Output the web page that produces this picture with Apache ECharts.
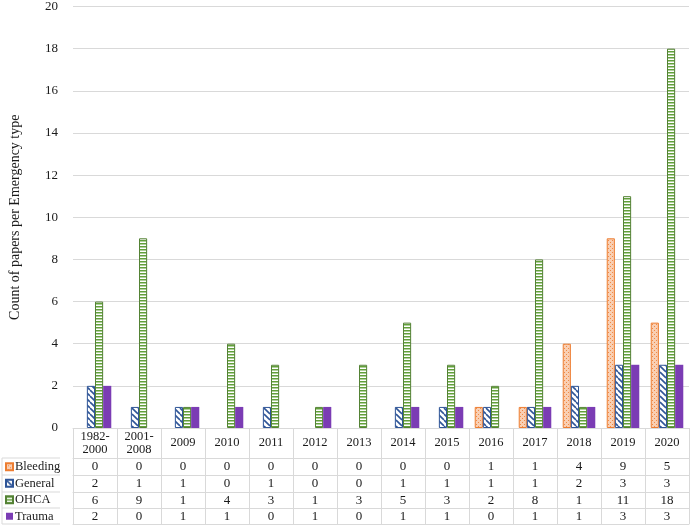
<!DOCTYPE html>
<html>
<head>
<meta charset="utf-8">
<script src="https://cdn.jsdelivr.net/npm/echarts@6/dist/echarts.min.js"></script>
<style>
  html, body { margin: 0; padding: 0; background: #fff; }
  #chart { width: 690px; height: 526px; }
</style>
</head>
<body>
<div id="chart"></div>
<script>
;(function () {
  const categories = ['1982-\n2000', '2001-\n2008', '2009', '2010', '2011', '2012', '2013', '2014', '2015', '2016', '2017', '2018', '2019', '2020']
  const seriesNames = ['Bleeding', 'General', 'OHCA', 'Trauma']
  const bleeding = [0, 0, 0, 0, 0, 0, 0, 0, 0, 1, 1, 4, 9, 5]
  const general = [2, 1, 1, 0, 1, 0, 0, 1, 1, 1, 1, 2, 3, 3]
  const ohca = [6, 9, 1, 4, 3, 1, 3, 5, 3, 2, 8, 1, 11, 18]
  const trauma = [2, 0, 1, 1, 0, 1, 0, 1, 1, 0, 1, 1, 3, 3]

  const FONT = 'Liberation Serif'
  const LINE = '#d9d9d9'
  const TEXT = '#1a1a1a'
  const GRID_LEFT = 60
  const GRID_BOTTOM = 98
  const CHART_H = 526
  const rowOffsets = [30, 47, 64, 80, 96] // row tops below the x axis, last one = table bottom

  function pattern(w, h, draw) {
    const c = document.createElement('canvas')
    c.width = w
    c.height = h
    draw(c.getContext('2d'))
    return { image: c, repeat: 'repeat' }
  }

  const dots = pattern(4, 4, (ctx) => {
    ctx.fillStyle = '#f9cfb3'
    ctx.fillRect(0, 0, 4, 4)
    ctx.fillStyle = '#f08a45'
    ctx.fillRect(0, 0, 1, 1)
    ctx.fillRect(2, 2, 1, 1)
  })

  const diag = pattern(6, 6, (ctx) => {
    ctx.fillStyle = '#fff'
    ctx.fillRect(0, 0, 6, 6)
    ctx.strokeStyle = '#2f5597'
    ctx.lineWidth = 1.6
    for (const k of [-6, 0, 6]) {
      ctx.beginPath()
      ctx.moveTo(k, 0)
      ctx.lineTo(k + 6, 6)
      ctx.stroke()
    }
  })

  const horiz = pattern(2, 3, (ctx) => {
    ctx.fillStyle = '#fff'
    ctx.fillRect(0, 0, 2, 3)
    ctx.fillStyle = '#62a03a'
    ctx.fillRect(0, 0, 2, 1.5)
  })

  const styles = [
    { color: dots, borderColor: '#ed7d31', borderWidth: 1 },
    { color: diag, borderColor: '#2f5597', borderWidth: 1 },
    { color: horiz, borderColor: '#548235', borderWidth: 1 },
    { color: '#7b3cb4', borderColor: '#7b3cb4', borderWidth: 0 },
  ]
  const values = [bleeding, general, ohca, trauma]

  const series = values.map((vals, i) => ({
    name: seriesNames[i],
    type: 'bar',
    barGap: '0%',
    barCategoryGap: '26%',
    itemStyle: styles[i],
    data: vals.map((v) => (v === 0 ? '-' : v)),
  }))

  const textStyle = { fontFamily: FONT, fontSize: 12.5, color: TEXT }

  const tableAxes = rowOffsets.map((off, i) => ({
    type: 'category',
    data: categories,
    position: 'bottom',
    offset: off,
    axisLine: { show: true, lineStyle: { color: LINE } },
    axisTick: { show: false },
    axisLabel: {
      show: i < values.length,
      interval: 0,
      margin: 8.5,
      verticalAlign: 'middle',
      ...textStyle,
      fontSize: 13,
      formatter: (v, idx) => (i < values.length ? String(values[i][idx]) : ''),
    },
  }))

  // left column borders of the data table (legend cells)
  const axisY = CHART_H - GRID_BOTTOM
  const leftLines = rowOffsets.map((off) => ({
    type: 'line',
    shape: { x1: 2, y1: axisY + off, x2: GRID_LEFT, y2: axisY + off },
    style: { stroke: LINE, lineWidth: 1 },
  }))
  leftLines.push({
    type: 'line',
    shape: { x1: 2, y1: axisY + rowOffsets[0], x2: 2, y2: axisY + rowOffsets[rowOffsets.length - 1] },
    style: { stroke: LINE, lineWidth: 1 },
  })

  const chart = echarts.init(document.getElementById('chart'))
  chart.setOption({
    animation: false,
    backgroundColor: '#fff',
    grid: { left: GRID_LEFT, right: 1, top: 5, bottom: GRID_BOTTOM },
    legend: {
      orient: 'vertical',
      left: 5,
      top: axisY + rowOffsets[0] + 0.5,
      padding: 0,
      itemGap: 0,
      itemWidth: 7,
      itemHeight: 7,
      icon: 'rect',
      textStyle: { ...textStyle, fontSize: 12.5, lineHeight: 16.5, padding: [0, 0, 0, -3] },
      data: seriesNames,
      selectedMode: false,
    },
    xAxis: [
      {
        type: 'category',
        data: categories,
        axisLine: { show: true, lineStyle: { color: LINE } },
        axisTick: { show: true, interval: 0, length: rowOffsets[rowOffsets.length - 1], lineStyle: { color: LINE } },
        axisLabel: { interval: 0, margin: 15, verticalAlign: 'middle', lineHeight: 13, ...textStyle },
      },
      ...tableAxes,
    ],
    yAxis: {
      type: 'value',
      min: 0,
      max: 20,
      interval: 2,
      name: 'Count of papers per Emergency type',
      nameLocation: 'middle',
      nameGap: 51,
      nameTextStyle: { ...textStyle, fontSize: 14 },
      axisLine: { show: false },
      axisTick: { show: false },
      axisLabel: { margin: 15, ...textStyle, fontSize: 13 },
      splitLine: { lineStyle: { color: LINE } },
    },
    graphic: leftLines,
    series,
  })
})()
</script>
</body>
</html>
